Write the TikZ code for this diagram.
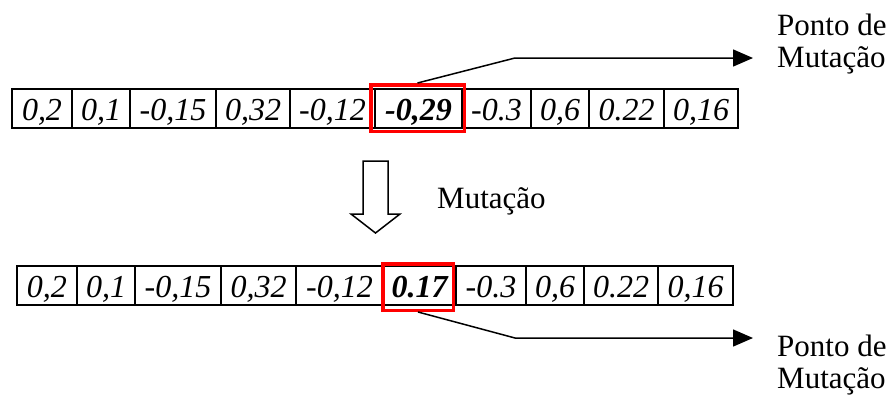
\documentclass[tikz,border=0pt]{standalone}
\usepackage{fontspec}
\setmainfont{Liberation Serif}
\usetikzlibrary{arrows.meta, positioning}

\newcommand\bigfont{\fontsize{31}{32}\selectfont}

\tikzset{
  cell/.style={draw, line width=2pt, inner sep=0pt, minimum height=39pt,
               text height=23pt, text depth=0pt, font=\fontsize{32}{34}\selectfont\itshape},
  redbox/.style={draw=red, line width=3.5pt, inner sep=0pt, minimum height=46.5pt},
  pointer/.style={line width=1.5pt, -{Triangle[length=20pt, width=17pt]}},
  lbl/.style={align=left, inner sep=0pt, font=\bigfont}
}

\begin{document}
\begin{tikzpicture}[x=1pt, y=-1pt]
  \useasboundingbox (0,0) rectangle (895,394);

  % cromossomo antes da mutacao
  \foreach \l/\r/\t [count=\i] in {12/72/{0,2}, 72/130/{0,1}, 130/216/{-0,15}, 216/290/{0,32}, 290/375/{-0,12}, 375/462/{\bfseries -0,29}, 462/531/{-0.3}, 531/589/{0,6}, 589/664/{0.22}, 664/738/{0,16}} {
    \pgfmathsetmacro\w{\r-\l}
    \node[cell, minimum width=\w pt] (a\i) at ({(\l+\r)/2}, 108.5) {\t};
  }

  % cromossomo depois da mutacao
  \foreach \l/\r/\t [count=\i] in {17/77/{0,2}, 77/135/{0,1}, 135/221/{-0,15}, 221/296/{0,32}, 296/383/{-0,12}, 383/456/{\bfseries 0.17}, 456/526/{-0.3}, 526/584/{0,6}, 584/658/{0.22}, 658/733/{0,16}} {
    \pgfmathsetmacro\w{\r-\l}
    \node[cell, minimum width=\w pt] (b\i) at ({(\l+\r)/2}, 285.5) {\t};
  }

  % genes marcados
  \node[redbox, minimum width=93.5pt] (ma) at (417.5, 108) {};
  \node[redbox, minimum width=70.5pt] (mb) at (418, 287) {};

  % rotulos
  \node[lbl, anchor=north west] (pa) at (777, 14) {Ponto de\\Mutação};
  \node[lbl, anchor=north west] (pb) at (777, 335) {Ponto de\\Mutação};
  \node[lbl, anchor=base west] (mut) at (437, 208) {Mutação};

  \coordinate (ta) at (753, 58);
  \coordinate (tb) at (753, 338);

  \draw[pointer] (ma.north) -- (515, 58) -- (ta);
  \draw[pointer] (mb.south) -- (515, 338) -- (tb);

  % seta de bloco
  \draw[line width=1.5pt, line join=miter]
    (363,161) -- (363,214) -- (351,214) -- (375.5,233) -- (400,214) -- (388,214) -- (388,161) -- cycle;
\end{tikzpicture}
\end{document}
